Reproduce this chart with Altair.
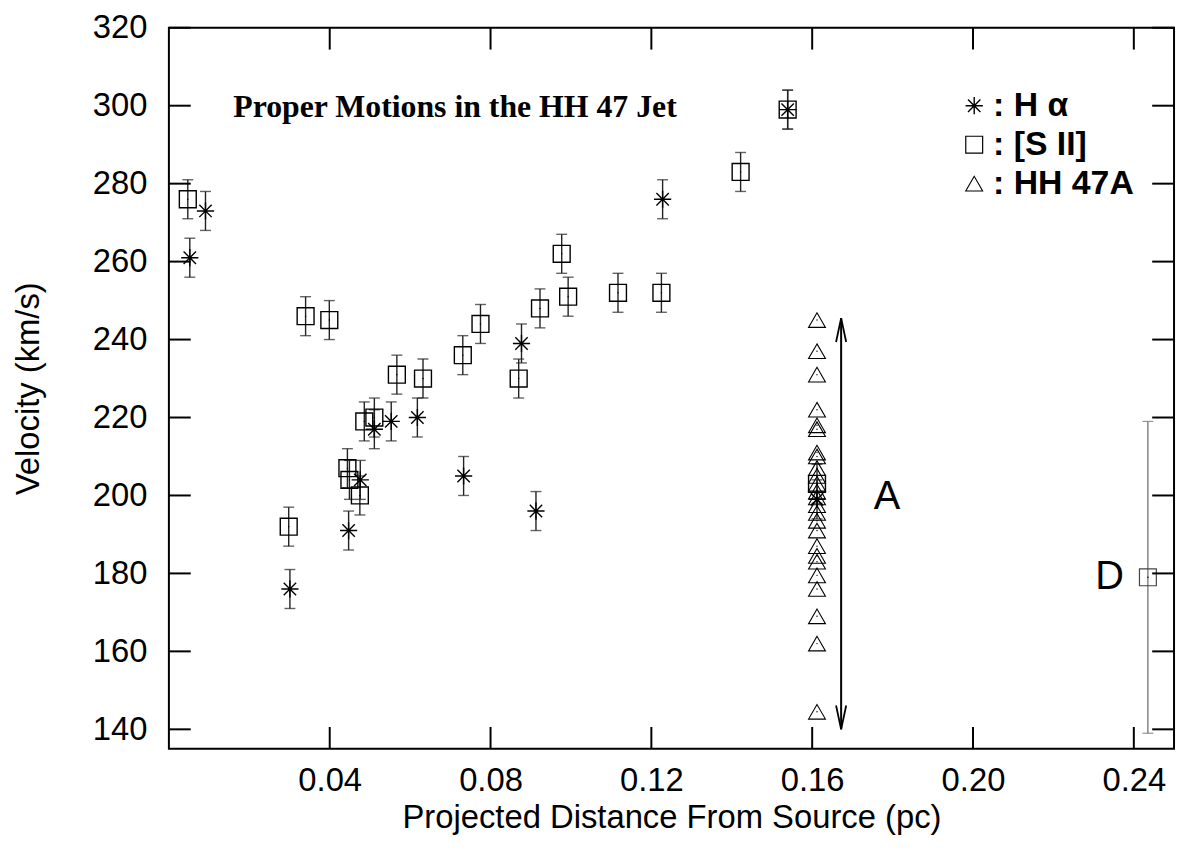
import altair as alt
import pandas as pd

# ---------------- data ----------------
# [S II] knots: distance (pc), velocity (km/s), error (km/s)
sii_x = [0.0047, 0.0298, 0.0340, 0.0399, 0.0444, 0.0449, 0.0475, 0.0486, 0.0511,
         0.0567, 0.0632, 0.0731, 0.0775, 0.0870, 0.0923, 0.0977, 0.0993, 0.1117,
         0.1225, 0.1422, 0.1539, 0.1612]
sii_v = [276, 192, 246, 245, 207, 204, 200, 219, 220,
         231, 230, 236, 244, 230, 248, 262, 251, 252,
         252, 283, 299, 203]
sii_err = [5, 5, 5, 5, 5, 5, 5, 5, 5,
           5, 5, 5, 5, 5, 5, 5, 5, 5,
           5, 5, 5, 5]

# H alpha knots
ha_x = [0.0052, 0.0091, 0.0301, 0.0447, 0.0476, 0.0511, 0.0553, 0.0618, 0.0733,
        0.0877, 0.0913, 0.1228, 0.1539, 0.1612]
ha_v = [261, 273, 176, 191, 204, 217, 219, 220, 205,
        239, 196, 276, 299, 199]
ha_err = [5, 5, 5, 5, 5, 5, 5, 5, 5,
          5, 5, 5, 5, 5]

# HH 47A bow shock points (all at the same distance)
hh_pos = 0.1612
hh_v = [245, 237, 231, 222, 218, 217, 211, 210, 207, 205, 203, 201, 199.5,
        197.5, 195.5, 193.5, 191, 187, 184.5, 183, 179.5, 176, 169, 162, 144.5]

# knot D
d_x = [0.2435]
d_v = [179]
d_err = [40]

# arrow spanning HH 47A
arrow_x = 0.1672
arrow_lo = 140
arrow_hi = 245.5

# annotations
title_text = "Proper Motions in the HH 47 Jet"
title_pos = (0.016, 297)
labels_text = ["A", "D"]
labels_x = [0.1786, 0.2340]
labels_y = [199.5, 179]

legend_names = [": H \u03b1", ": [S II]", ": HH 47A"]
legend_sym_x = 0.2003
legend_text_x = 0.2050
legend_y = [300, 290, 280]

x_ticks = [0.04, 0.08, 0.12, 0.16, 0.20, 0.24]
y_ticks = [140, 160, 180, 200, 220, 240, 260, 280, 300, 320]

# ---------------- chart ----------------
W, H = 1012, 726
TL = 22
SANS = "Liberation Sans"

xs = alt.Scale(domain=[0, 0.25], nice=False, zero=False)
ys = alt.Scale(domain=[135, 320], nice=False, zero=False)
xaxis = alt.Axis(values=x_ticks, format=".2f", title="Projected Distance From Source (pc)",
                 labelPadding=16, titlePadding=4, labelFlush=False, labelOverlap=False)
yaxis = alt.Axis(values=y_ticks, format="d", title="Velocity (km/s)",
                 labelPadding=22, titlePadding=47, labelFlush=False, labelOverlap=False)


def X(f):
    return alt.X(f, type="quantitative", scale=xs, axis=xaxis)


def Y(f):
    return alt.Y(f, type="quantitative", scale=ys, axis=yaxis)


sii = pd.DataFrame({"x": sii_x, "v": sii_v, "e": sii_err})
ha = pd.DataFrame({"x": ha_x, "v": ha_v, "e": ha_err})
dd = pd.DataFrame({"x": d_x, "v": d_v, "e": d_err})
hh = pd.DataFrame({"x": [hh_pos] * len(hh_v), "v": hh_v})

err = pd.concat([sii, ha])
err["lo"] = err["v"] - err["e"]
err["hi"] = err["v"] + err["e"]
caps = pd.concat([pd.DataFrame({"x": err["x"], "y": err["lo"]}),
                  pd.DataFrame({"x": err["x"], "y": err["hi"]})])
dd["lo"] = dd["v"] - dd["e"]
dd["hi"] = dd["v"] + dd["e"]
dcaps = pd.concat([pd.DataFrame({"x": dd["x"], "y": dd["lo"]}),
                   pd.DataFrame({"x": dd["x"], "y": dd["hi"]})])

ASTER = "M-1,0L1,0M0,-1L0,1M-0.72,-0.72L0.72,0.72M-0.72,0.72L0.72,-0.72"
HEAD_UP = "M-0.85,4L0,0L0.85,4"
HEAD_DN = "M-0.85,-4L0,0L0.85,-4"

layers = []

# error bars
layers.append(alt.Chart(err).mark_rule(color="#222", strokeWidth=1.4).encode(
    x=X("x"), y=Y("lo"), y2="hi"))
layers.append(alt.Chart(caps).mark_tick(orient="horizontal", size=11, thickness=1.4, color="#222").encode(
    x=X("x"), y=Y("y")))
layers.append(alt.Chart(dd).mark_rule(color="#666", strokeWidth=1.2).encode(
    x=X("x"), y=Y("lo"), y2="hi"))
layers.append(alt.Chart(dcaps).mark_tick(orient="horizontal", size=11, thickness=1.2, color="#666").encode(
    x=X("x"), y=Y("y")))

# symbols
layers.append(alt.Chart(sii).mark_point(shape="square", size=289, filled=False, color="black",
                                        strokeWidth=1.4, opacity=1).encode(x=X("x"), y=Y("v")))
layers.append(alt.Chart(dd).mark_point(shape="square", size=289, filled=False, color="#444",
                                       strokeWidth=1.2, opacity=1).encode(x=X("x"), y=Y("v")))
layers.append(alt.Chart(ha).mark_point(shape=ASTER, size=300, filled=False, color="black",
                                       strokeWidth=1.4, opacity=1).encode(x=X("x"), y=Y("v")))
layers.append(alt.Chart(hh).mark_point(shape="triangle-up", size=289, filled=False, color="black",
                                       strokeWidth=1.1, opacity=1).encode(x=X("x"), y=Y("v")))
dots = pd.concat([sii[["x", "v"]], ha[["x", "v"]], hh[["x", "v"]], dd[["x", "v"]]])
layers.append(alt.Chart(dots).mark_point(shape="circle", size=2, filled=True, color="black",
                                         opacity=1).encode(x=X("x"), y=Y("v")))

# arrow
arr = pd.DataFrame({"x": [arrow_x], "lo": [arrow_lo], "hi": [arrow_hi]})
layers.append(alt.Chart(arr).mark_rule(color="black", strokeWidth=2).encode(
    x=X("x"), y=Y("lo"), y2="hi"))
layers.append(alt.Chart(pd.DataFrame({"x": [arrow_x], "v": [arrow_hi]})).mark_point(
    shape=HEAD_UP, size=144, filled=False, color="black", strokeWidth=1.8, opacity=1).encode(
    x=X("x"), y=Y("v")))
layers.append(alt.Chart(pd.DataFrame({"x": [arrow_x], "v": [arrow_lo]})).mark_point(
    shape=HEAD_DN, size=144, filled=False, color="black", strokeWidth=1.8, opacity=1).encode(
    x=X("x"), y=Y("v")))

# texts
layers.append(alt.Chart(pd.DataFrame({"x": [title_pos[0]], "v": [title_pos[1]], "t": [title_text]}))
              .mark_text(font="Liberation Serif", fontWeight="bold", fontSize=32, align="left",
                         baseline="alphabetic", color="black")
              .encode(x=X("x"), y=Y("v"), text="t:N"))
layers.append(alt.Chart(pd.DataFrame({"x": labels_x, "v": labels_y, "t": labels_text}))
              .mark_text(font=SANS, fontSize=40, align="center", baseline="middle", color="black")
              .encode(x=X("x"), y=Y("v"), text="t:N"))

# legend
leg = pd.DataFrame({"x": [legend_sym_x] * 3, "tx": [legend_text_x] * 3, "v": legend_y, "t": legend_names})
layers.append(alt.Chart(leg.iloc[[0]]).mark_point(shape=ASTER, size=300, filled=False, color="black",
                                                  strokeWidth=1.4, opacity=1).encode(x=X("x"), y=Y("v")))
layers.append(alt.Chart(leg.iloc[[1]]).mark_point(shape="square", size=289, filled=False, color="black",
                                                  strokeWidth=1.2, opacity=1).encode(x=X("x"), y=Y("v")))
layers.append(alt.Chart(leg.iloc[[2]]).mark_point(shape="triangle-up", size=289, filled=False, color="black",
                                                  strokeWidth=1.1, opacity=1).encode(x=X("x"), y=Y("v")))
layers.append(alt.Chart(leg).mark_text(font=SANS, fontWeight="bold", fontSize=34, align="left",
                                       baseline="middle", color="black")
              .encode(x=X("tx"), y=Y("v"), text="t:N"))

# inward tick marks on all four sides (gnuplot style)
xt = pd.DataFrame({"t": x_ticks})
yt = pd.DataFrame({"t": y_ticks})
layers.append(alt.Chart(xt).mark_rule(color="black", strokeWidth=2).encode(
    x=X("t"), y=alt.value(H - TL), y2=alt.value(H)))
layers.append(alt.Chart(xt).mark_rule(color="black", strokeWidth=2).encode(
    x=X("t"), y=alt.value(0), y2=alt.value(TL)))
layers.append(alt.Chart(yt).mark_rule(color="black", strokeWidth=2).encode(
    y=Y("t"), x=alt.value(0), x2=alt.value(TL)))
layers.append(alt.Chart(yt).mark_rule(color="black", strokeWidth=2).encode(
    y=Y("t"), x=alt.value(W - TL), x2=alt.value(W)))

chart = alt.layer(*layers).properties(
    width=W, height=H, autosize="none",
    padding={"left": 162, "top": 17, "right": 4, "bottom": 100},
    background="white",
).configure_view(
    stroke="black", strokeWidth=2
).configure_axis(
    domain=False, grid=False, ticks=False, tickSize=0,
    labelFont=SANS, labelFontSize=33, labelColor="black",
    titleFont=SANS, titleFontSize=33, titleFontWeight="normal", titleColor="black",
)

chart.save("out.html", embed_options={"renderer": "svg", "actions": False})
